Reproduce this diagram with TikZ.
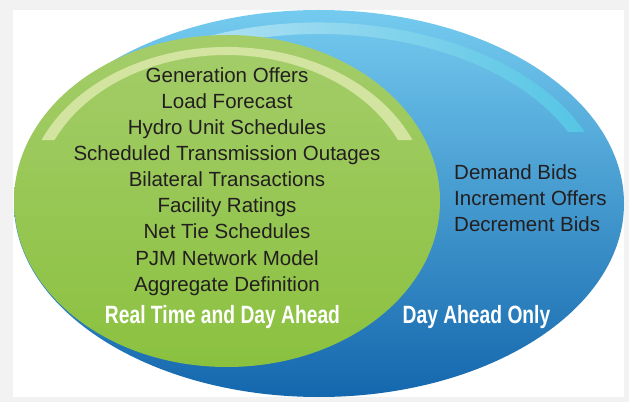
\documentclass[tikz,border=0pt]{standalone}
\usepackage{fontspec}
\usetikzlibrary{calc}
\setmainfont{Liberation Sans}
\newfontfamily\condfont{Liberation Sans Bold}[FakeStretch=0.77]
\definecolor{bggray}{HTML}{F2F2F2}
\definecolor{bluetop}{HTML}{74CBEF}
\definecolor{bluemid}{HTML}{4E9FD4}
\definecolor{bluebot}{HTML}{1467AD}
\definecolor{greentop}{HTML}{A4CD6A}
\definecolor{greenbot}{HTML}{8BC13F}
\definecolor{ghlend}{HTML}{D2E4A0}
\definecolor{ghlmid}{HTML}{F5F9EC}
\definecolor{bhlpale}{HTML}{D2EBF8}
\definecolor{bhlend}{HTML}{55C5E5}
\definecolor{txt}{HTML}{231F20}
\tikzset{
  item/.style={anchor=base, inner sep=0pt, text=txt, font=\fontsize{20.5}{24}\selectfont},
  ritem/.style={anchor=base west, inner sep=0pt, text=txt, font=\fontsize{20.5}{24}\selectfont},
  label/.style={anchor=base, inner sep=0pt, text=white, font=\condfont\fontsize{25}{30}\selectfont}
}
\begin{document}
\begin{tikzpicture}[x=1pt,y=1pt]
\useasboundingbox (0,0) rectangle (629,402);
\fill[bggray] (0,0) rectangle (629,402);
\fill[white] (13,5) rectangle (624,392);
% blue ellipse
\shade[top color=bluetop, middle color=bluemid, bottom color=bluebot]
  (319,198.5) ellipse [x radius=305pt, y radius=193.5pt];
% blue highlight band
\shade[left color=bhlpale, middle color=bhlpale, right color=bhlend]
  (319,198.5) ++(23.27:289.5pt and 181pt)
  arc[start angle=23.27, end angle=156.73, x radius=289.5pt, y radius=181pt]
  -- ($(319,198.5)+(155.04:274.6pt and 169.5pt)$)
  arc[start angle=155.04, end angle=24.96, x radius=274.6pt, y radius=169.5pt]
  -- cycle;
% green ellipse
\shade[top color=greentop, bottom color=greenbot]
  (227,201) ellipse [x radius=213pt, y radius=166pt];
% green highlight band
\shade[left color=ghlend, middle color=ghlmid, right color=ghlend]
  (227,201) ++(23.33:202pt and 154pt)
  arc[start angle=23.33, end angle=156.67, x radius=202pt, y radius=154pt]
  -- ++(13,0)
  arc[start angle=155.30, end angle=24.70, x radius=189pt, y radius=146pt]
  -- cycle;
% left list
\node[item] (g1) at (227,319) {Generation Offers};
\node[item] (g2) at (227,293) {Load Forecast};
\node[item] (g3) at (227,267) {Hydro Unit Schedules};
\node[item] (g4) at (227,241) {Scheduled Transmission Outages};
\node[item] (g5) at (227,215) {Bilateral Transactions};
\node[item] (g6) at (227,189) {Facility Ratings};
\node[item] (g7) at (227,163) {Net Tie Schedules};
\node[item] (g8) at (227,137) {PJM Network Model};
\node[item] (g9) at (227,111) {Aggregate Definition};
% right list
\node[ritem] (d1) at (454,222) {Demand Bids};
\node[ritem] (d2) at (454,196.5) {Increment Offers};
\node[ritem] (d3) at (454,171) {Decrement Bids};
% labels
\node[label] (rtda) at (222.5,79) {Real Time and Day Ahead};
\node[label] (dao) at (476.5,79) {Day Ahead Only};
\end{tikzpicture}
\end{document}
